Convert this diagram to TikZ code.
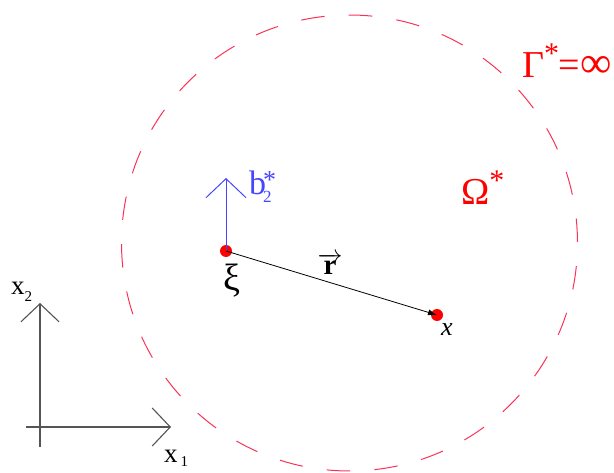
\documentclass[tikz,border=0pt]{standalone}
\usepackage{fontspec}
\setmainfont{Liberation Serif}
\usetikzlibrary{arrows.meta}
\newcommand\myfs[1]{\fontsize{#1}{#1}\selectfont}
\definecolor{circred}{RGB}{250,50,90}
\definecolor{vecblue}{RGB}{70,70,255}
\definecolor{axgray}{RGB}{85,85,85}
\begin{document}
\begin{tikzpicture}[x=1pt,y=-1pt,
  lbl/.style={inner sep=0pt},
  dot/.style={circle,fill=red,inner sep=0pt,minimum size=12pt},
  circ/.style={circred,line width=1pt,dash pattern=on 23.5pt off 24.25pt},
  bvec/.style={vecblue,line width=1pt,-{Straight Barb[length=19pt,width=40pt,line width=1pt]}},
  axis/.style={axgray,line width=1.1pt,-{Straight Barb[length=18pt,width=38pt,line width=1.1pt]}},
  rvec/.style={black,line width=0.8pt,-{Latex[length=9pt,width=6pt]}}]
\useasboundingbox (0,0) rectangle (614,473);
% dashed boundary circle
\coordinate (c) at (349.5,243);
\draw[circ] ([shift={(-90.15:228)}]c) arc[start angle=-90.15,end angle=269.85,radius=228];
% points
\node[dot] (xi0) at (226,251) {};
\node[dot] (xp) at (437,315) {};
\coordinate (btip) at (226,178);
\draw[bvec] (xi0.center) -- (btip);
\draw[rvec] (xi0.center) -- (xp.center);
% labels
\node[lbl,vecblue,anchor=base west] (b) at (249,195)
  {\myfs{34}b\kern-3pt\rlap{\raisebox{6pt}{\myfs{26}*}}\raisebox{-8pt}{\myfs{17}2}};
\node[lbl] (xi) at (232,281) {\myfs{38}ξ};
\node[lbl] (r) at (330,264) {\myfs{29}$\overrightarrow{\mbox{\bfseries r}}$};
\node[lbl] (xl) at (447,330) {\myfs{26}\itshape x};
\node[lbl,red,anchor=base west] (omega) at (461,205)
  {\myfs{38}Ω\raisebox{14pt}{\myfs{30}*}};
\node[lbl,red,anchor=base west] (gamma) at (522,78)
  {\myfs{38}Γ\raisebox{14pt}{\myfs{30}*}\kern-1pt=\kern1pt{\myfs{44}∞}};
% axes
\coordinate (x1s) at (26,427);
\coordinate (x1e) at (171,427);
\coordinate (x2s) at (40,447);
\coordinate (x2e) at (40,303);
\draw[axis] (x1s) -- (x1e);
\draw[axis] (x2s) -- (x2e);
\node[lbl,anchor=base west] (x1) at (164,463) {\myfs{27}x\kern3pt\raisebox{-4pt}{\myfs{15}1}};
\node[lbl,anchor=base west] (x2) at (11,295) {\myfs{27}x\raisebox{-7pt}{\myfs{15}2}};
\end{tikzpicture}
\end{document}
